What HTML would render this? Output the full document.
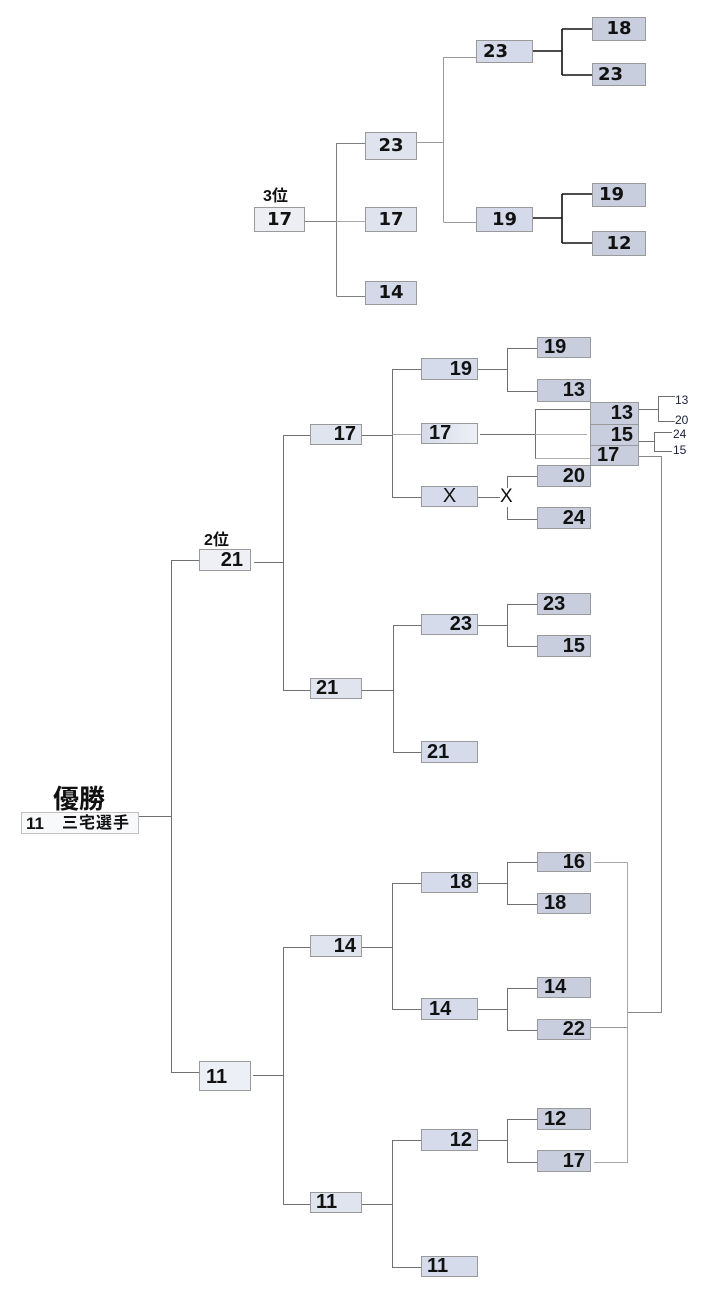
<!DOCTYPE html>
<html>
<head>
<meta charset="utf-8">
<style>
html,body{margin:0;padding:0;background:#fff;}
body{width:705px;height:1296px;position:relative;overflow:hidden;}
.b{position:absolute;box-sizing:border-box;border:1px solid #9a9a9a;color:#111;white-space:nowrap;
 font-family:"Liberation Sans","DejaVu Sans",sans-serif;font-weight:bold;font-size:20px;}
.t{font-family:"DejaVu Sans","Liberation Sans",sans-serif;font-size:18px;font-weight:bold;}
.c{text-align:center;}
.l{text-align:left;padding-left:5px;}
.r{text-align:right;padding-right:5px;}
.lab{position:absolute;white-space:nowrap;font-family:"Liberation Sans","Noto Sans CJK JP",sans-serif;font-weight:bold;color:#111;}
.sm{position:absolute;font-family:"Liberation Sans",sans-serif;font-size:12px;color:#1a1f3a;line-height:12px;}
svg{position:absolute;left:0;top:0;}
</style>
</head>
<body>
<svg width="705" height="1296" viewBox="0 0 705 1296">
 <g stroke="#808080" stroke-width="1" fill="none" shape-rendering="crispEdges">
  <!-- top section -->
  <path d="M305 221.5H336.5M336.5 143V296M336.5 143.5H365M336.5 296.5H365"/>
  <path d="M336.5 221.5H365" stroke="#aaa"/>
  <path d="M417 142.5H443.5M443.5 57V222M443.5 57.5H476M443.5 222.5H476" stroke="#999"/>
 </g>
 <g stroke="#111" stroke-width="1.6" fill="none">
  <path d="M533 51H562M562 29V75M562 29H592M562 75H592"/>
  <path d="M533 218H562M562 194V243M562 194H592M562 243H592"/>
 </g>
 <g stroke="#707070" stroke-width="1" fill="none" shape-rendering="crispEdges">
  <!-- final -->
  <path d="M139 816.5H171.5M171.5 560V1073M171.5 560.5H199M171.5 1072.5H199"/>
  <!-- 2nd place side -->
  <path d="M254 562.5H283.5M283.5 435V691M283.5 435.5H310M283.5 690.5H310"/>
  <path d="M253 1075.5H283.5M283.5 947V1205M283.5 947.5H310M283.5 1204.5H310"/>
  <!-- R1 -> R2 -->
  <path d="M362 435.5H392.5M392.5 369V498M392.5 369.5H421M392.5 497.5H421"/>
  <path d="M392.5 434.5H421" stroke="#aaa"/>
  <path d="M362 690.5H393.5M393.5 625V753M393.5 625.5H421M393.5 752.5H421"/>
  <path d="M362 947.5H392.5M392.5 883V1010M392.5 883.5H421M392.5 1009.5H421"/>
  <path d="M362 1204.5H392.5M392.5 1140V1268M392.5 1140.5H421M392.5 1267.5H421"/>
  <!-- R2 -> leaves -->
  <path d="M478 369.5H507.5M507.5 348V392M507.5 348.5H537M507.5 391.5H537"/>
  <path d="M480 434.5H535.5M535.5 409V459M535.5 409.5H590"/>
  <path d="M535.5 434.5H587M535.5 458.5H590" stroke="#b0b0b0"/>
  <path d="M478 497.5H500M507.5 476V488M507.5 507V520M507.5 476.5H537M507.5 519.5H537"/>
  <path d="M478 625.5H507.5M507.5 604V647M507.5 604.5H537M507.5 646.5H537"/>
  <path d="M478 883.5H507.5M507.5 862V905M507.5 862.5H537M507.5 904.5H537"/>
  <path d="M478 1009.5H507.5M507.5 988V1031M507.5 988.5H537M507.5 1030.5H537"/>
  <path d="M477 1140.5H507.5M507.5 1119V1163M507.5 1119.5H537M507.5 1162.5H537"/>
  <!-- stack right -->
  <path d="M639 409.5H658.5M658.5 396V422M658.5 396.5H675M658.5 421.5H675"/>
  <path d="M639 441.5H654.5M654.5 432V452M654.5 432.5H672M654.5 451.5H672"/>
  <path d="M639 456.5H661.5M661.5 456V1013M627 1012.5H661.5" stroke="#888"/>
  <path d="M594 862.5H627.5M627.5 862V1163M594 1162.5H627.5" stroke="#a8a8a8"/>
  <path d="M591 1027.5H627.5" stroke="#999"/>
 </g>
</svg>

<!-- top section -->
<div class="lab" style="left:263px;top:188px;font-size:16px;line-height:18px;">3位</div>
<div class="b t c" style="left:254px;top:207px;width:51px;height:25px;line-height:23px;background:#eceef4;">17</div>
<div class="b t c" style="left:365px;top:132px;width:52px;height:28px;line-height:26px;background:#dfe3ed;">23</div>
<div class="b t c" style="left:365px;top:207px;width:52px;height:25px;line-height:23px;background:#dfe3ed;">17</div>
<div class="b t c" style="left:365px;top:281px;width:52px;height:24px;line-height:22px;background:#d3d9e9;">14</div>
<div class="b t l" style="left:476px;top:40px;width:57px;height:23px;line-height:21px;background:#d4daea;padding-left:6px;">23</div>
<div class="b t c" style="left:476px;top:207px;width:57px;height:25px;line-height:23px;background:#d4daea;">19</div>
<div class="b t c" style="left:592px;top:17px;width:54px;height:24px;line-height:22px;background:#c8cedd;">18</div>
<div class="b t l" style="left:592px;top:63px;width:54px;height:23px;line-height:21px;background:#c8cedd;">23</div>
<div class="b t l" style="left:592px;top:183px;width:54px;height:24px;line-height:22px;background:#c8cedd;padding-left:6px;">19</div>
<div class="b t c" style="left:592px;top:231px;width:54px;height:25px;line-height:23px;background:#c8cedd;">12</div>

<!-- winner -->
<div class="lab" style="left:53px;top:785px;font-size:26px;line-height:28px;">優勝</div>
<div class="b" style="left:21px;top:812px;width:118px;height:22px;border-color:#c0c0c0;background:#f8f9fb;"></div>
<div class="lab" style="left:26px;top:814px;font-size:17px;line-height:19px;">11</div>
<div class="lab" style="left:62px;top:814px;font-size:16px;line-height:19px;letter-spacing:1px;">三宅選手</div>

<!-- R0 -->
<div class="lab" style="left:204px;top:532px;font-size:16px;line-height:18px;">2位</div>
<div class="b r" style="left:199px;top:549px;width:52px;height:22px;line-height:20px;background:#eef0f6;padding-right:7px;">21</div>
<div class="b l" style="left:199px;top:1061px;width:52px;height:30px;line-height:30px;background:#eceff5;padding-left:6px;">11</div>

<!-- R1 -->
<div class="b r" style="left:310px;top:424px;width:52px;height:21px;line-height:19px;background:#dfe4ef;">17</div>
<div class="b l" style="left:310px;top:678px;width:52px;height:21px;line-height:19px;background:#dfe4ef;">21</div>
<div class="b r" style="left:310px;top:935px;width:52px;height:22px;line-height:20px;background:#dfe4ef;">14</div>
<div class="b l" style="left:310px;top:1192px;width:52px;height:21px;line-height:19px;background:#dfe4ef;">11</div>

<!-- R2 -->
<div class="b r" style="left:421px;top:358px;width:57px;height:22px;line-height:20px;background:#d5dbeb;">19</div>
<div class="b l" style="left:421px;top:423px;width:57px;height:21px;line-height:19px;background:linear-gradient(to right,#d5dbeb,#eef0f6);padding-left:7px;">17</div>
<div class="b c" style="left:421px;top:486px;width:57px;height:21px;line-height:19px;background:#d5dbeb;font-weight:normal;">X</div>
<div class="b r" style="left:421px;top:614px;width:57px;height:21px;line-height:19px;background:#d5dbeb;">23</div>
<div class="b l" style="left:421px;top:741px;width:57px;height:22px;line-height:20px;background:#d5dbeb;">21</div>
<div class="b r" style="left:421px;top:872px;width:57px;height:21px;line-height:19px;background:#d5dbeb;">18</div>
<div class="b l" style="left:421px;top:998px;width:57px;height:22px;line-height:20px;background:#d5dbeb;padding-left:7px;">14</div>
<div class="b r" style="left:421px;top:1129px;width:57px;height:22px;line-height:20px;background:#d5dbeb;">12</div>
<div class="b l" style="left:421px;top:1256px;width:57px;height:21px;line-height:19px;background:#d5dbeb;">11</div>

<div class="lab" style="left:500px;top:486px;font-size:19px;line-height:22px;font-weight:normal;font-family:'Liberation Sans',sans-serif;">X</div>

<!-- leaves -->
<div class="b l" style="left:537px;top:337px;width:54px;height:21px;line-height:19px;background:#c8cedd;padding-left:6px;">19</div>
<div class="b r" style="left:537px;top:379px;width:54px;height:23px;line-height:21px;background:#c8cedd;">13</div>
<div class="b r" style="left:537px;top:465px;width:54px;height:22px;line-height:20px;background:#c8cedd;">20</div>
<div class="b r" style="left:537px;top:507px;width:54px;height:22px;line-height:20px;background:#c8cedd;">24</div>
<div class="b l" style="left:537px;top:593px;width:54px;height:22px;line-height:20px;background:#c8cedd;">23</div>
<div class="b r" style="left:537px;top:635px;width:54px;height:22px;line-height:20px;background:#c8cedd;">15</div>
<div class="b r" style="left:537px;top:852px;width:54px;height:20px;line-height:18px;background:#c8cedd;">16</div>
<div class="b l" style="left:537px;top:893px;width:54px;height:21px;line-height:19px;background:#c8cedd;padding-left:6px;">18</div>
<div class="b l" style="left:537px;top:977px;width:54px;height:21px;line-height:19px;background:#c8cedd;padding-left:6px;">14</div>
<div class="b r" style="left:537px;top:1019px;width:54px;height:21px;line-height:19px;background:#c8cedd;">22</div>
<div class="b l" style="left:537px;top:1108px;width:54px;height:22px;line-height:20px;background:#c8cedd;padding-left:6px;">12</div>
<div class="b r" style="left:537px;top:1150px;width:54px;height:22px;line-height:20px;background:#c8cedd;">17</div>

<!-- stacked -->
<div class="b r" style="left:590px;top:402px;width:49px;height:23px;line-height:21px;background:#c8cedd;">13</div>
<div class="b r" style="left:590px;top:424px;width:49px;height:22px;line-height:20px;background:#c8cedd;">15</div>
<div class="b l" style="left:590px;top:445px;width:49px;height:21px;line-height:19px;background:#c8cedd;padding-left:6px;">17</div>

<div class="sm" style="left:675px;top:394px;">13</div>
<div class="sm" style="left:675px;top:414px;">20</div>
<div class="sm" style="left:673px;top:428px;">24</div>
<div class="sm" style="left:673px;top:444px;">15</div>
</body>
</html>
